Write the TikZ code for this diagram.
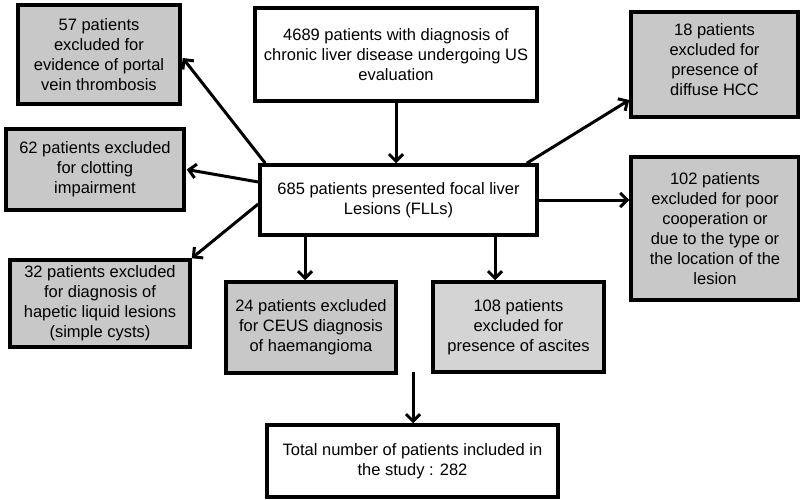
\documentclass[tikz,border=0pt]{standalone}
\usepackage{fontspec}
\setmainfont{Liberation Sans}
\usetikzlibrary{arrows.meta,shadows}
\definecolor{boxgray}{RGB}{200,200,200}
\definecolor{lightgray2}{RGB}{212,212,212}
\begin{document}
\begin{tikzpicture}[x=1pt,y=-1pt,
  txt/.style={align=center,inner sep=0pt,font=\fontsize{16.5}{20}\selectfont},
  box/.style={txt,draw=black,line width=3.5pt,rectangle,
    drop shadow={opacity=0.3,shadow xshift=1.5pt,shadow yshift=-1.5pt}},
  wbox/.style={box,fill=white},
  gbox/.style={box,fill=boxgray},
  arr/.style={line width=3pt,-{Straight Barb[length=7pt,width=14pt]}}]
\useasboundingbox (0,0) rectangle (800,500);
\node[wbox,minimum width=282pt,minimum height=93pt] (top) at (396,54.5)
  {4689 patients with diagnosis of\\chronic liver disease undergoing US\\evaluation};
\node[gbox,minimum width=162pt,minimum height=99pt] (n57) at (99,54.5)
  {57 patients\\excluded for\\evidence of portal\\vein thrombosis};
\node[gbox,minimum width=167pt,minimum height=105pt] (n18) at (714.5,64.5) {};
\node[txt,yshift=4.5pt] (t18) at (n18.center)
  {18 patients\\excluded for\\presence of\\diffuse HCC};
\node[gbox,minimum width=178pt,minimum height=81pt] (n62) at (95,169.5)
  {62 patients excluded\\for clotting\\impairment};
\node[wbox,minimum width=277pt,minimum height=70pt] (mid) at (398.5,200)
  {685 patients presented focal liver\\Lesions (FLLs)};
\node[gbox,minimum width=168pt,minimum height=143pt] (n102) at (715,228.5)
  {102 patients\\excluded for poor\\cooperation or\\due to the type or\\the location of the\\lesion};
\node[gbox,minimum width=180pt,minimum height=87pt] (n32) at (100,303.5)
  {32 patients excluded\\for diagnosis of\\hapetic liquid lesions\\(simple cysts)};
\node[gbox,minimum width=170pt,minimum height=91pt] (n24) at (311,327.5)
  {24 patients excluded\\for CEUS diagnosis\\of haemangioma};
\node[box,fill=lightgray2,minimum width=171pt,minimum height=90pt] (n108) at (518.5,327)
  {108 patients\\excluded for\\presence of ascites};
\node[wbox,minimum width=291pt,minimum height=72pt] (total) at (412.5,461)
  {Total number of patients included in\\the study : 282};
\coordinate (c) at (413,372);
\draw[arr] (top.south) -- (top.south |- mid.north);
\draw[arr] ([xshift=7pt]mid.north west) -- ([xshift=1pt,yshift=-3.5pt]n57.east);
\draw[arr] ([yshift=18pt]mid.west) -- ([xshift=1pt]n62.east);
\draw[arr] ([yshift=-4pt]mid.west) -- (n32.north east);
\draw[arr] ([xshift=-6pt]n24.north |- mid.south) -- ([xshift=-6pt]n24.north);
\draw[arr] ([xshift=-23.5pt]n108.north |- mid.south) -- ([xshift=-23.5pt]n108.north);
\draw[arr] ([xshift=-12pt]mid.north east) -- ([yshift=-35.5pt]n18.west);
\draw[arr] (mid.east) -- (n102.west |- mid.east);
\draw[arr] (c) -- (c |- total.north);
\end{tikzpicture}
\end{document}
